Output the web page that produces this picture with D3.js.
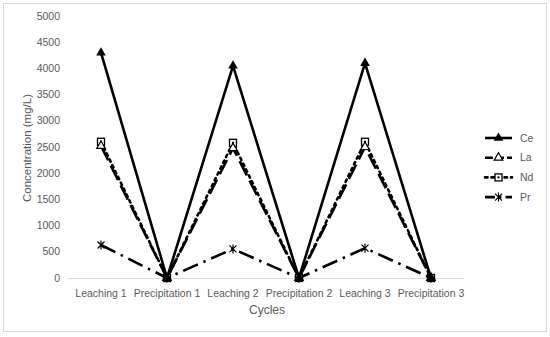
<!DOCTYPE html>
<html>
<head>
<meta charset="utf-8">
<script src="https://cdn.jsdelivr.net/npm/d3@7"></script>
<style>
  body { margin: 0; background: #fff; }
  text { font-family: "Liberation Sans", Arial, sans-serif; fill: #595959; }
</style>
</head>
<body>
<div id="chart"></div>
<script>
// data
const cycles = ["Leaching 1", "Precipitation 1", "Leaching 2", "Precipitation 2", "Leaching 3", "Precipitation 3"];
const ce = [4300, 0, 4050, 0, 4100, 0];
const la = [2520, 0, 2480, 0, 2500, 0];
const nd = [2600, 0, 2580, 0, 2600, 0];
const pr = [630, 0, 555, 0, 570, 0];
const yTicks = [0, 500, 1000, 1500, 2000, 2500, 3000, 3500, 4000, 4500, 5000];

const series = [
    { name: "Ce", values: ce, dash: null, marker: "triUp" },
    { name: "La", values: la, dash: "16,6", marker: "triOpen" },
    { name: "Nd", values: nd, dash: "2.5,4", marker: "square" },
    { name: "Pr", values: pr, dash: "16,6,2.5,6", marker: "star" }
];

const W = 550, H = 337;
const svg = d3.select("#chart").append("svg")
    .attr("width", W)
    .attr("height", H);

// outer frame
svg.append("rect")
    .attr("x", 3.5).attr("y", 3.5)
    .attr("width", 543).attr("height", 328)
    .attr("fill", "#fff")
    .attr("stroke", "#d9d9d9");

const x = d3.scalePoint().domain(cycles).range([68, 464]).padding(0.5);
const y = d3.scaleLinear().domain([0, 5000]).range([278, 16]);

// y labels
svg.append("g").selectAll("text")
  .data(yTicks)
  .join("text")
    .attr("x", 60)
    .attr("y", d => y(d))
    .attr("dy", "0.35em")
    .attr("text-anchor", "end")
    .attr("font-size", 10.5)
    .text(d => d);

// x axis line
svg.append("line")
    .attr("x1", 68).attr("x2", 464)
    .attr("y1", y(0) + 0.5).attr("y2", y(0) + 0.5)
    .attr("stroke", "#d9d9d9");

svg.append("g").selectAll("text")
  .data(cycles)
  .join("text")
    .attr("x", d => x(d))
    .attr("y", 293)
    .attr("dy", "0.35em")
    .attr("text-anchor", "middle")
    .attr("font-size", 10.5)
    .text(d => d);

// axis titles
svg.append("text")
    .attr("x", 267).attr("y", 310)
    .attr("dy", "0.35em")
    .attr("text-anchor", "middle")
    .attr("font-size", 12)
    .text("Cycles");
svg.append("text")
    .attr("transform", "translate(27,148) rotate(-90)")
    .attr("dy", "0.35em")
    .attr("text-anchor", "middle")
    .attr("font-size", 11.5)
    .text("Concentration (mg/L)");

function drawMarker(g, type) {
    if (type == "triUp") {
        g.append("path").attr("d", d3.symbol().type(d3.symbolTriangle).size(40))
            .attr("fill", "#000");
    } else if (type == "triOpen") {
        g.append("path").attr("d", d3.symbol().type(d3.symbolTriangle).size(32))
            .attr("fill", "#fff").attr("stroke", "#000").attr("stroke-width", 1.2);
    } else if (type == "square") {
        g.append("rect").attr("x", -3.5).attr("y", -3.5).attr("width", 7).attr("height", 7)
            .attr("fill", "#fff").attr("stroke", "#000").attr("stroke-width", 1.3);
        g.append("rect").attr("x", -1).attr("y", -1).attr("width", 2).attr("height", 2)
            .attr("fill", "#000");
    } else if (type == "star") {
        // x with a vertical bar, like the spreadsheet "star" marker
        g.append("path").attr("d", "M-3.5,-3.5L3.5,3.5M-3.5,3.5L3.5,-3.5M0,-4.5L0,4.5")
            .attr("stroke", "#000").attr("stroke-width", 1.2).attr("fill", "none");
    }
}

const line = d3.line()
    .x((d, i) => x(cycles[i]))
    .y(d => y(d));

// draw in reverse so Ce sits on top
series.slice().reverse().forEach(s => {
    svg.append("path")
      .datum(s.values)
        .attr("d", line)
        .attr("fill", "none")
        .attr("stroke", "#000")
        .attr("stroke-width", 2.6)
        .attr("stroke-dasharray", s.dash)
        .attr("stroke-linecap", s.name == "Nd" ? "round" : "butt");
    s.values.forEach((v, i) => {
        const g = svg.append("g").attr("transform", "translate(" + x(cycles[i]) + "," + y(v) + ")");
        drawMarker(g, s.marker);
    });
});

// legend
const legend = svg.append("g");
series.forEach((s, i) => {
    const ly = 138 + i * 19.7;
    legend.append("line")
        .attr("x1", 485).attr("x2", 512)
        .attr("y1", ly).attr("y2", ly)
        .attr("stroke", "#000")
        .attr("stroke-width", 2.6)
        .attr("stroke-dasharray", s.name == "Pr" ? "10,4,2.5,4" : (s.name == "La" ? "8,3" : s.dash))
        .attr("stroke-linecap", s.name == "Nd" ? "round" : "butt");
    drawMarker(legend.append("g").attr("transform", "translate(498.5," + ly + ")"), s.marker);
    legend.append("text")
        .attr("x", 520).attr("y", ly)
        .attr("dy", "0.35em")
        .attr("font-size", 10.5)
        .text(s.name);
});
</script>
</body>
</html>
